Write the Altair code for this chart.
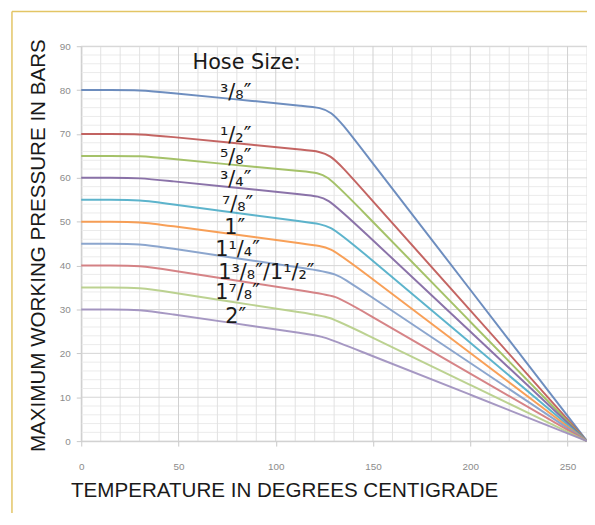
import altair as alt
import pandas as pd

# ---- data (temperature °C, pressure bar) ----
sizes = ['3/8"', '1/2"', '5/8"', '3/4"', '7/8"', '1"', '1 1/4"', '1 3/8"/1 1/2"', '1 7/8"', '2"']
t_3_8 = [0, 15, 30, 45, 75, 118, 128.2, 140, 200, 260]
p_3_8 = [80, 80, 80, 79.4, 78.1, 76.2, 75.8, 69.0, 34.5, 0]
t_1_2 = [0, 15, 30, 45, 75, 118, 127.6, 140, 200, 260]
p_1_2 = [70, 70, 70, 69.4, 68.1, 66.2, 65.8, 59.6, 29.8, 0]
t_5_8 = [0, 15, 30, 45, 75, 118, 125.7, 140, 200, 260]
p_5_8 = [65, 65, 65, 64.4, 63.1, 61.3, 61.0, 54.5, 27.2, 0]
t_3_4 = [0, 15, 30, 45, 75, 118, 126.3, 140, 200, 260]
p_3_4 = [60, 60, 60, 59.3, 58.0, 56.0, 55.6, 49.9, 25.0, 0]
t_7_8 = [0, 15, 30, 45, 75, 118, 128.0, 140, 200, 260]
p_7_8 = [55, 55, 55, 54.1, 52.3, 49.8, 49.2, 44.8, 22.4, 0]
t_1 = [0, 15, 30, 45, 75, 118, 128.0, 140, 200, 260]
p_1 = [50, 50, 50, 49.1, 47.3, 44.8, 44.2, 40.2, 20.1, 0]
t_1_1_4 = [0, 15, 30, 45, 75, 118, 130.9, 140, 200, 260]
p_1_1_4 = [45, 45, 45, 44.0, 42.0, 39.2, 38.3, 35.6, 17.8, 0]
t_1_3_8 = [0, 15, 30, 45, 75, 118, 131.0, 140, 200, 260]
p_1_3_8 = [40, 40, 40, 39.0, 36.9, 34.0, 33.1, 30.8, 15.4, 0]
t_1_7_8 = [0, 15, 30, 45, 75, 118, 127.0, 140, 200, 260]
p_1_7_8 = [35, 35, 35, 34.0, 31.9, 29.0, 28.4, 25.7, 12.8, 0]
t_2 = [0, 15, 30, 45, 75, 118, 124.5, 140, 200, 260]
p_2 = [30, 30, 30, 29.0, 27.1, 24.3, 23.85, 21.1, 10.6, 0]
temps_list = [t_3_8, t_1_2, t_5_8, t_3_4, t_7_8, t_1, t_1_1_4, t_1_3_8, t_1_7_8, t_2]
series = [p_3_8, p_1_2, p_5_8, p_3_4, p_7_8, p_1, p_1_1_4, p_1_3_8, p_1_7_8, p_2]
colors = ["#5E82B8", "#BE5452", "#9BBB59", "#7E64A0", "#4BACC6",
          "#F79646", "#7F9CC9", "#D2777A", "#B5CD85", "#9C8DBD"]

label_text = ["³/₈″", "¹/₂″", "⁵/₈″", "³/₄″", "⁷/₈″", "1″", "1¹/₄″", "1³/₈″/1¹/₂″", "1⁷/₈″", "2″"]
label_x = [79.4, 79.4, 79.4, 79.4, 80.4, 78.9, 80.4, 95.2, 80.4, 79.4]
label_y = [79.4, 69.5, 64.5, 59.6, 53.7, 48.5, 43.5, 38.3, 33.8, 28.2]
heading = "Hose Size:"
heading_x = [85]
heading_y = [86.2]

x_ticks = [0, 50, 100, 150, 200, 250]
y_ticks = [0, 10, 20, 30, 40, 50, 60, 70, 80, 90]
minor_y = [v for v in range(0, 91, 2) if v % 10 != 0]
major_y = y_ticks
minor_x = [v for v in range(0, 261, 10) if v % 50 != 0]
major_x = [0, 50, 100, 150, 200, 250]

rows = []
for s, ts, vals in zip(sizes, temps_list, series):
    for i, (t, v) in enumerate(zip(ts, vals)):
        rows.append({"size": s, "temp": t, "pressure": v, "order": i})
df = pd.DataFrame(rows)

x_scale = alt.Scale(domain=[0, 260], nice=False, zero=False)
y_scale = alt.Scale(domain=[0, 90], nice=False)

x_axis = alt.Axis(values=x_ticks, grid=False, domainColor="#c8c8c8", tickColor="#c8c8c8",
                  tickSize=5, labelColor="#8c8c8c", labelFontSize=10, labelFont="Liberation Sans",
                  labelPadding=16, labelFlush=False,
                  title="TEMPERATURE IN DEGREES CENTIGRADE",
                  titleFont="Liberation Sans", titleFontSize=20.8,
                  titleFontWeight="normal", titleColor="#1a1a1a",
                  titleX=205, titleY=56, titleAlign="center", titleBaseline="alphabetic")
y_axis = alt.Axis(values=y_ticks, grid=False, domainColor="#c8c8c8", tickColor="#c8c8c8",
                  tickSize=5, labelColor="#8c8c8c", labelFontSize=10, labelFont="Liberation Sans",
                  labelPadding=6,
                  title="MAXIMUM WORKING PRESSURE IN BARS",
                  titleFont="Liberation Sans", titleFontSize=20.8,
                  titleFontWeight="normal", titleColor="#1a1a1a", titleAngle=270,
                  titleX=-37, titleY=201, titleAlign="center", titleBaseline="alphabetic")

X = lambda: alt.X("temp:Q", scale=x_scale, axis=x_axis)
Y = lambda: alt.Y("pressure:Q", scale=y_scale, axis=y_axis)

def hrules(vals, color):
    return alt.Chart(pd.DataFrame({"pressure": vals})).mark_rule(color=color, strokeWidth=1).encode(y=Y())

def vrules(vals, color):
    return alt.Chart(pd.DataFrame({"temp": vals})).mark_rule(color=color, strokeWidth=1).encode(x=X())

grid = [hrules(minor_y, "#ebebeb"), vrules(minor_x, "#e2e2e2"),
        hrules(major_y, "#d4d4d4"), vrules(major_x, "#d0d0d0")]

lines = alt.Chart(df).mark_line(interpolate="basis", strokeWidth=2, opacity=0.9).encode(
    x=X(), y=Y(),
    color=alt.Color("size:N", scale=alt.Scale(domain=sizes, range=colors), legend=None),
    detail="size:N",
    order="order:Q",
)

labels_df = pd.DataFrame({"temp": label_x, "pressure": label_y, "label": label_text})
labels = alt.Chart(labels_df).mark_text(font="DejaVu Sans", fontSize=21, color="#1a1a1a",
                                        align="center", baseline="middle").encode(
    x=X(), y=Y(), text="label:N")

head_df = pd.DataFrame({"temp": heading_x, "pressure": heading_y, "label": [heading]})
head = alt.Chart(head_df).mark_text(font="DejaVu Sans", fontSize=21, color="#1a1a1a",
                                    align="center", baseline="middle").encode(
    x=X(), y=Y(), text="label:N")

border_left = alt.Chart(pd.DataFrame({"a": [0]})).mark_rule(color="#E3C565", strokeWidth=1.5).encode(
    x=alt.value(-70), y=alt.value(-35), y2=alt.value(480))
border_top = alt.Chart(pd.DataFrame({"a": [0]})).mark_rule(color="#E3C565", strokeWidth=1.5).encode(
    x=alt.value(-70), x2=alt.value(520), y=alt.value(-35))

chart = alt.layer(*grid, lines, labels, head, border_left, border_top).properties(
    width=511, height=399,
    autosize=alt.AutoSizeParams(type="none"),
    padding={"left": 74, "top": 36, "right": 0, "bottom": 70},
).configure_view(stroke=None).configure(background="white")

chart.save("out.html", embed_options={"renderer": "svg", "actions": False})
